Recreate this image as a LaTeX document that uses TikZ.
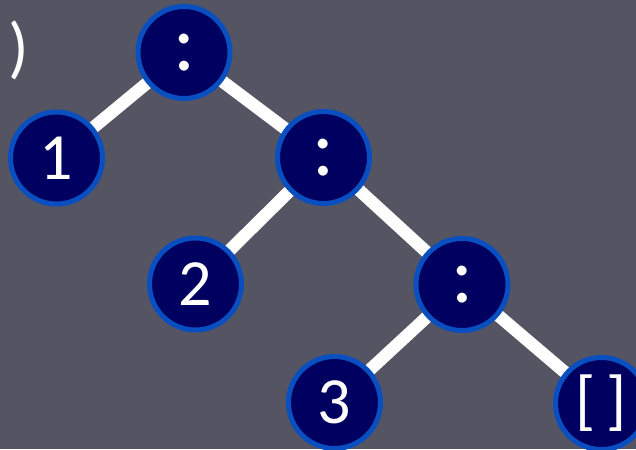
\documentclass[tikz,border=0pt]{standalone}
\usepackage{fontspec}
\setmainfont{Carlito}
\usetikzlibrary{backgrounds}
\definecolor{bgcol}{HTML}{545462}
\definecolor{nodefill}{HTML}{000060}
\definecolor{nodeedge}{HTML}{0A4FC0}
\tikzset{
  treenode/.style={circle, fill=nodefill, draw=nodeedge, line width=5pt,
    minimum size=92pt, inner sep=0pt, text=white,
    font=\fontsize{66}{68}\selectfont},
  consnode/.style={treenode, font=\fontsize{82}{84}\selectfont},
  treeedge/.style={draw=white, line width=12.5pt}
}
\begin{document}
\begin{tikzpicture}[x=1pt,y=-1pt]
\useasboundingbox (0,0) rectangle (636,449);
\node[anchor=east, text=white, font=\fontsize{68}{70}\selectfont, inner sep=0pt] (paren) at (29,50) {)};
\node[consnode] (c1) at (184,52.5) {:};
\node[treenode] (n1) at (56.5,158) {1};
\node[consnode] (c2) at (323.5,157.5) {:};
\node[treenode] (n2) at (195.5,284) {2};
\node[consnode] (c3) at (462,284.5) {:};
\node[treenode] (n3) at (334.5,402.5) {3};
\node[treenode] (nil) at (601.5,403.5) {[\,]};
\begin{scope}[on background layer]
\fill[bgcol] (0,0) rectangle (636,449);
\draw[treeedge] (c1.center) -- (n1.center);
\draw[treeedge] (c1.center) -- (c2.center);
\draw[treeedge] (c2.center) -- (n2.center);
\draw[treeedge] (c2.center) -- (c3.center);
\draw[treeedge] (c3.center) -- (n3.center);
\draw[treeedge] (c3.center) -- (nil.center);
\end{scope}
\end{tikzpicture}
\end{document}
